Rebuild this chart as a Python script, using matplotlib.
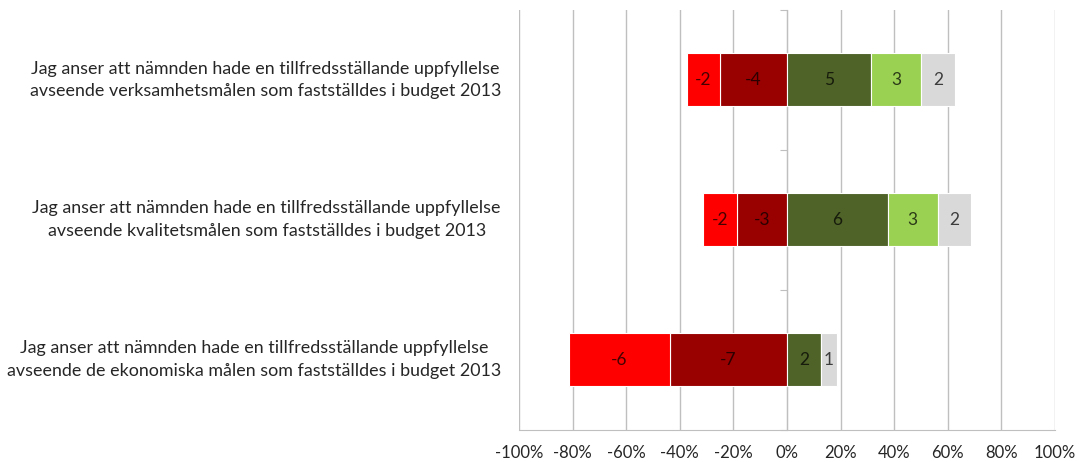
import matplotlib
matplotlib.use("Agg")
import matplotlib.pyplot as plt
import numpy as np
from matplotlib.ticker import FixedLocator

plt.rcParams['font.family'] = ['Lato', 'DejaVu Sans']

categories = [
    "Jag anser att nämnden hade en tillfredsställande uppfyllelse\navseende verksamhetsmålen som fastställdes i budget 2013",
    "Jag anser att nämnden hade en tillfredsställande uppfyllelse\navseende kvalitetsmålen som fastställdes i budget 2013",
    "Jag anser att nämnden hade en tillfredsställande uppfyllelse\navseende de ekonomiska målen som fastställdes i budget 2013",
]
# response counts per category (negative = disagree)
helt_oenig = [-2, -2, -6]
oenig = [-4, -3, -7]
enig = [5, 6, 2]
helt_enig = [3, 3, 0]
vet_ej = [2, 2, 1]

xticks = [-1.0, -0.8, -0.6, -0.4, -0.2, 0.0, 0.2, 0.4, 0.6, 0.8, 1.0]
xticklabels = ["-100%", "-80%", "-60%", "-40%", "-20%", "0%", "20%", "40%", "60%", "80%", "100%"]

colors = {
    'helt_oenig': '#FF0000',
    'oenig': '#990000',
    'enig': '#4F6228',
    'helt_enig': '#9BD153',
    'vet_ej': '#D9D9D9',
}

fig = plt.figure(figsize=(10.79, 4.62), dpi=100)
ax = fig.add_axes([519/1079, 1 - 429.5/462, (1055-519)/1079, (429.5-10)/462])

n = len(categories)
y = np.arange(n)
totals = np.array([abs(a) + abs(b) + c + d + e for a, b, c, d, e in
                   zip(helt_oenig, oenig, enig, helt_enig, vet_ej)], dtype=float)

bar_h = 0.38
neg_left = np.zeros(n)
pos_left = np.zeros(n)

def draw(vals, color, negative):
    global neg_left, pos_left
    vals = np.array(vals, dtype=float)
    frac = np.abs(vals) / totals
    if negative:
        lefts = neg_left - frac
        neg_left = lefts
    else:
        lefts = pos_left.copy()
        pos_left = pos_left + frac
    ax.barh(y, frac, left=lefts, height=bar_h, color=color,
            edgecolor='white', linewidth=0.8, zorder=3)
    for yi, l, w, v in zip(y, lefts, frac, vals):
        if v != 0:
            ax.text(l + w / 2, yi, f"{int(v)}", ha='center', va='center',
                    fontsize=12.5, color='black', alpha=0.72, zorder=4)

draw(oenig, colors['oenig'], True)
draw(helt_oenig, colors['helt_oenig'], True)
draw(enig, colors['enig'], False)
draw(helt_enig, colors['helt_enig'], False)
draw(vet_ej, colors['vet_ej'], False)

ax.set_xlim(-1, 1)
ax.set_ylim(n - 0.5, -0.5)
ax.set_xticks(xticks)
ax.set_xticklabels(xticklabels, fontsize=12, color='#262626')
ax.tick_params(axis='x', length=0, pad=11)
ax.grid(axis='x', color='#BFBFBF', linewidth=1.0, zorder=0)
ax.set_axisbelow(True)

for s in ['top', 'right']:
    ax.spines[s].set_visible(False)
ax.spines['bottom'].set_color('#BFBFBF')
ax.spines['left'].set_position(('data', 0))
ax.spines['left'].set_color('#BFBFBF')
ax.spines['left'].set_zorder(2)
ax.yaxis.set_major_locator(FixedLocator(np.arange(-0.5, n, 1.0)))
ax.set_yticklabels([])
ax.tick_params(axis='y', length=5, color='#BFBFBF', direction='out')

trans = ax.get_yaxis_transform()
for yi, lab in zip(y, categories):
    ax.text(-18/536, yi, lab, transform=trans, ha='right', va='center',
            multialignment='center', fontsize=12.9, color='#262626',
            linespacing=1.5)

fig.savefig("out.png", dpi=100)
